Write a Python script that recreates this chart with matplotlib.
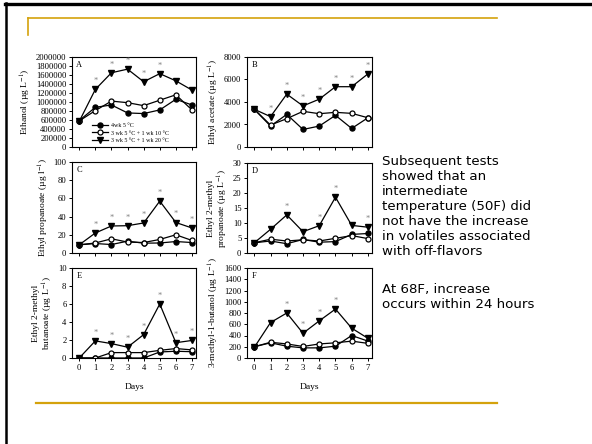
import numpy as np
import matplotlib
matplotlib.use("Agg")
import matplotlib.pyplot as plt
from matplotlib.lines import Line2D

plt.rcParams['font.family'] = ['Liberation Serif', 'DejaVu Serif']
plt.rcParams['mathtext.fontset'] = 'stix'

days = np.arange(8)
labels = ["4wk 5 \u00b0C", "3 wk 5 \u00b0C + 1 wk 10 \u00b0C", "3 wk 5 \u00b0C + 1 wk 20 \u00b0C"]

# A ethanol
eth_5 = [588000, 882000, 934000, 757000, 743000, 824000, 1060000, 934000]
eth_10 = [580000, 809000, 1020000, 985000, 919000, 1040000, 1160000, 824000]
eth_20 = [570000, 1280000, 1650000, 1730000, 1450000, 1630000, 1470000, 1265000]
eth_star = [1, 2, 3, 4, 5]

# B ethyl acetate
eac_5 = [3350, 1860, 2900, 1560, 1860, 2815, 1650, 2600]
eac_10 = [3350, 1950, 2520, 3170, 2960, 3080, 2990, 2600]
eac_20 = [3350, 2700, 4700, 3650, 4250, 5360, 5360, 6500]
eac_star = [1, 2, 3, 4, 5, 6, 7]

# C ethyl propanoate
epr_5 = [9, 10.4, 9.3, 13, 10.8, 11, 12.6, 11.5]
epr_10 = [9, 11, 15.6, 12, 11.5, 14.9, 20, 13.8]
epr_20 = [9, 22, 29.7, 30, 33, 57, 33.5, 27.5]
epr_star = [1, 2, 3, 4, 5, 6, 7]

# D ethyl 2-methyl propanoate
emp_5 = [3.4, 4.0, 3.1, 4.5, 3.6, 3.8, 6.2, 6.5]
emp_10 = [3.4, 4.6, 4.0, 4.4, 4.0, 4.9, 5.8, 4.8]
emp_20 = [3.4, 7.9, 12.7, 7.1, 9.1, 18.6, 9.2, 8.6]
emp_star = [2, 4, 5, 7]

# E ethyl 2-methyl butanoate
emb_5 = [0, 0, 0, 0, 0, 0.67, 0.75, 0.7]
emb_10 = [0, 0, 0.6, 0.6, 0.6, 0.85, 1.05, 0.9]
emb_20 = [0, 1.9, 1.6, 1.2, 2.6, 6.0, 1.7, 1.95]
emb_star = [1, 2, 3, 4, 5, 6, 7]

# F 3-methyl-1-butanol
mbu_5 = [200, 270, 210, 180, 180, 210, 400, 300]
mbu_10 = [200, 280, 250, 205, 250, 270, 300, 260]
mbu_20 = [190, 630, 800, 440, 660, 870, 530, 350]
mbu_star = [2, 3, 4, 5]

panels = [
    ("A", "Ethanol (\u00b5g L$^{-1}$)", eth_5, eth_10, eth_20, eth_star, 2000000, 200000, (72, 196, 57, 147)),
    ("B", "Ethyl acetate (\u00b5g L$^{-1}$)", eac_5, eac_10, eac_20, eac_star, 8000, 2000, (247, 372, 57, 147)),
    ("C", "Ethyl propanoate (\u00b5g l$^{-1}$)", epr_5, epr_10, epr_20, epr_star, 100, 20, (72, 196, 162, 253)),
    ("D", "Ethyl 2-methyl\npropanoate (\u00b5g L$^{-1}$)", emp_5, emp_10, emp_20, emp_star, 30, 5, (247, 372, 163, 253)),
    ("E", "Ethyl 2-methyl\nbutanoate (\u00b5g L$^{-1}$)", emb_5, emb_10, emb_20, emb_star, 10, 2, (72, 196, 268, 358)),
    ("F", "3-methyl-1-butanol (\u00b5g L$^{-1}$)", mbu_5, mbu_10, mbu_20, mbu_star, 1600, 200, (247, 372, 268, 358)),
]

W, H = 592, 444
fig = plt.figure(figsize=(W / 100, H / 100), dpi=100)

# slide decoration
fig.add_artist(Line2D([5 / W, 1], [1 - 4.5 / H, 1 - 4.5 / H], color='black', lw=2.4))
fig.add_artist(Line2D([6 / W, 6 / W], [1 - 3 / H, 0], color='black', lw=1.8))
gold = '#d4a20c'
fig.add_artist(Line2D([28 / W, 497 / W], [1 - 18 / H, 1 - 18 / H], color=gold, lw=1.2))
fig.add_artist(Line2D([28 / W, 28 / W], [1 - 18 / H, 1 - 35 / H], color=gold, lw=1.2))
fig.add_artist(Line2D([36 / W, 497 / W], [1 - 403 / H, 1 - 403 / H], color=gold, lw=1.6))

for letter, ylab, s5, s10, s20, stars, ymax, ystep, (l, r, t, b) in panels:
    ax = fig.add_axes([l / W, 1 - b / H, (r - l) / W, (b - t) / H])
    ax.plot(days, s5, '-o', color='black', mfc='black', ms=3.6, lw=0.9, label=labels[0])
    ax.plot(days, s10, '-o', color='black', mfc='white', ms=3.6, mew=0.9, lw=0.9, label=labels[1])
    ax.plot(days, s20, '-v', color='black', mfc='black', ms=4.2, lw=0.9, label=labels[2])
    for d in stars:
        ax.annotate('*', (d, s20[d]), xytext=(0, 3), textcoords='offset points',
                    ha='center', va='bottom', fontsize=6, color='#808080')
    ax.set_xlim(-0.45, 7.25)
    ax.set_ylim(0, ymax)
    ax.set_xticks(days)
    ax.set_yticks(np.arange(0, ymax + ystep / 2, ystep))
    ax.ticklabel_format(axis='y', style='plain', useOffset=False)
    ax.tick_params(direction='out', length=2.5, width=0.7, labelsize=6.2, pad=1.5)
    for sp in ax.spines.values():
        sp.set_linewidth(0.8)
    ax.set_ylabel(ylab, fontsize=6.8, labelpad=2, linespacing=1.1)
    ax.text(0.035, 0.96, letter, transform=ax.transAxes, ha='left', va='top', fontsize=6)
    if letter in ("E", "F"):
        ax.set_xlabel("Days", fontsize=6.8, labelpad=8)
    else:
        ax.set_xticklabels([])
    if letter == "A":
        ax.legend(loc='lower left', bbox_to_anchor=(0.13, 0.0), frameon=False, fontsize=4.3,
                  handlelength=2.6, labelspacing=0.35, borderpad=0.2, handletextpad=0.6)

txt1 = ("Subsequent tests\nshowed that an\nintermediate\ntemperature (50F) did\n"
        "not have the increase\nin volatiles associated\nwith off-flavors")
txt2 = "At 68F, increase\noccurs within 24 hours"
fig.text(382 / W, 1 - 155 / H, txt1, ha='left', va='top', fontsize=9.6,
         family='DejaVu Sans', linespacing=1.2)
fig.text(382 / W, 1 - 283 / H, txt2, ha='left', va='top', fontsize=9.6,
         family='DejaVu Sans', linespacing=1.2)

fig.savefig("out.png", dpi=100)
